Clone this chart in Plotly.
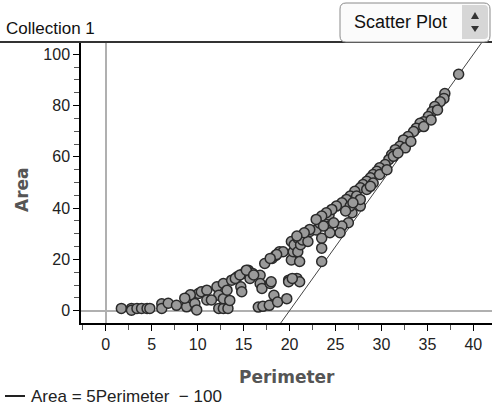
import numpy as np
import plotly.graph_objects as go

# ---- data ----
perimeter = [
    1.7, 2.8, 2.8, 3.4, 3.9, 4.5, 4.8,
    6.1, 6.1, 6.8, 7.7, 8.8, 8.8, 9.4, 9.7, 10.1, 9.9, 10.4, 11.0, 11.0,
    12.1, 12.3, 12.3, 12.8, 13.3, 12.8, 12.8, 13.2, 13.7, 14.3, 14.7, 14.8,
    15.0, 15.5, 15.7, 16.0, 16.8, 16.8, 17.0, 16.6, 17.1, 17.3, 17.8, 17.9,
    18.1, 18.3, 18.5, 18.7, 18.9, 19.7, 19.9, 20.2, 20.2, 20.4, 20.5, 20.8,
    20.9, 20.9, 21.1, 21.2, 21.1, 21.4, 22.0, 22.2, 22.9, 23.3, 23.5, 23.5,
    23.5, 24.0, 24.2, 24.3, 11.5, 13.5, 9.2, 8.6, 14.1, 14.6, 15.3, 16.1,
    38.4, 36.9, 36.8, 36.4, 35.8, 35.5, 35.1, 34.6, 34.2, 33.8, 33.5, 32.9,
    32.4, 32.0, 31.5, 31.1, 30.8, 30.4, 29.8, 29.5, 29.1, 28.8, 28.4, 28.0,
    27.7, 27.1, 26.6, 26.2, 25.7, 25.1, 24.6, 24.0, 23.5, 22.9, 22.2, 21.6,
    20.8, 29.8, 29.1, 28.4, 27.3, 27.7, 26.8, 26.4, 25.7, 25.5, 24.8, 24.4,
    23.7, 26.6, 26.1, 27.7, 30.6, 32.6, 33.2, 34.6, 35.4, 36.1, 31.3, 31.8,
    28.8, 26.9, 19.3, 18.6, 17.9, 18.0, 19.9, 20.3,
]
area = [
    0.9, 0.9, 0.2, 0.9, 0.9, 0.9, 0.9,
    2.7, 0.9, 2.9, 2.1, 4.7, 1.5, 6.0, 2.8, 6.7, 0.3, 7.4, 8.0, 4.2,
    9.3, 6.0, 0.9, 0.9, 0.9, 10.6, 4.7, 8.0, 11.9, 13.2, 9.3, 7.4,
    14.5, 15.8, 12.6, 14.5, 13.8, 10.6, 8.7, 1.4, 1.7, 18.4, 2.1, 10.6,
    20.4, 6.0, 21.6, 3.4, 23.0, 4.7, 11.9, 27.0, 19.8, 23.0, 25.7, 12.6,
    28.3, 23.0, 11.3, 25.7, 19.2, 27.6, 27.0, 30.9, 31.5, 34.1, 28.3, 24.4,
    19.2, 36.0, 32.8, 37.3, 4.2, 4.0, 6.2, 4.9, 12.6, 13.9, 15.8, 13.9,
    92.2, 84.7, 82.8, 81.5, 79.6, 77.6, 75.7, 73.7, 73.1, 71.2, 69.9, 67.9,
    66.6, 64.1, 62.8, 60.8, 58.9, 57.0, 55.7, 54.4, 53.1, 51.8, 50.5, 49.2,
    47.9, 46.6, 44.7, 43.4, 42.1, 40.8, 39.5, 38.2, 36.9, 35.6, 31.7, 30.4,
    29.1, 53.1, 49.8, 47.3, 44.7, 40.8, 38.2, 34.3, 33.0, 30.4, 34.3, 30.4,
    33.0, 40.8, 38.9, 43.4, 55.0, 63.5, 66.0, 71.8, 74.4, 78.3, 60.2, 61.5,
    48.5, 42.1, 23.0, 21.9, 20.4, 11.3, 11.3, 12.6,
]
line_slope = 5
line_intercept = -100
x_ticks = [0, 5, 10, 15, 20, 25, 30, 35, 40]
y_ticks = [0, 20, 40, 60, 80, 100]

FONT = "Liberation Sans"
BOLD = "DejaVu Sans"

# plot area in pixels: left 81, right 492, top 43, bottom 323
def px(x):
    return (x - 81) / 411

def py(y):
    return (323 - y) / 280

fig = go.Figure()

lx = np.linspace(15, 45, 50)
fig.add_trace(go.Scatter(
    x=lx, y=line_slope * lx + line_intercept, mode="lines",
    line=dict(color="#444444", width=1), hoverinfo="skip", showlegend=False))

fig.add_trace(go.Scatter(
    x=perimeter, y=area, mode="markers",
    marker=dict(size=10, color="#9a9a9a", line=dict(color="#2a2a2a", width=1.5)),
    showlegend=False))

fig.update_layout(
    width=492, height=414,
    margin=dict(l=81, r=0, t=43, b=91, autoexpand=False),
    paper_bgcolor="white", plot_bgcolor="white",
    font=dict(family=FONT, size=16, color="#222222"),
    showlegend=False,
)

common = dict(
    showgrid=False, automargin=False,
    zeroline=True, zerolinecolor="#b0b0b0", zerolinewidth=1.5,
    showline=True, linecolor="black", linewidth=1.5,
    ticks="outside", ticklen=6, tickwidth=1, tickcolor="black",
    tickfont=dict(size=16, family=FONT, color="#222222"),
)
fig.update_xaxes(range=[-2.69, 42.03], tickvals=x_ticks,
                 minor=dict(dtick=2.5, tick0=0, ticks="outside", ticklen=5, tickcolor="#555555"),
                 **common)
fig.update_yaxes(range=[-4.8, 104.4], tickvals=y_ticks,
                 minor=dict(dtick=5, tick0=0, ticks="outside", ticklen=5, tickcolor="#555555"),
                 **common)

# axis titles
fig.add_annotation(text="<b>Perimeter</b>", xref="paper", yref="paper",
                   x=px(287), y=py(377), xanchor="center", yanchor="middle", showarrow=False,
                   font=dict(size=17, family=BOLD, color="#555555"))
fig.add_annotation(text="<b>Area</b>", xref="paper", yref="paper", textangle=-90,
                   x=px(22), y=py(190), xanchor="center", yanchor="middle", showarrow=False,
                   font=dict(size=17, family=BOLD, color="#555555"))

# header underline across full width
fig.add_shape(type="line", xref="paper", yref="paper",
              x0=px(0), x1=1.0, y0=py(42), y1=py(42),
              line=dict(color="#333333", width=2))

# "Collection 1" title
fig.add_annotation(text="Collection 1", xref="paper", yref="paper",
                   x=px(4), y=py(29), xanchor="left", yanchor="middle",
                   showarrow=False, font=dict(size=17, family=FONT, color="#111111"))

# dropdown box (pixel-sized relative to top-right of plot)
r = 6
L, R, T, B = -152, -2, 40, 1
path = (f"M {L + r},{T} L {R - r},{T} Q {R},{T} {R},{T - r} L {R},{B + r} "
        f"Q {R},{B} {R - r},{B} L {L + r},{B} Q {L},{B} {L},{B + r} "
        f"L {L},{T - r} Q {L},{T} {L + r},{T} Z")
pix = dict(xref="paper", yref="paper", xsizemode="pixel", ysizemode="pixel", xanchor=1, yanchor=1)
fig.add_shape(type="path", path=path, line=dict(color="#8a8a8a", width=1), fillcolor="#fbfbfb", **pix)
fig.add_shape(type="path", path="M -30,4 L -8,4 Q -4,4 -4,8 L -4,34 Q -4,38 -8,38 L -30,38 Z",
              line=dict(width=0), fillcolor="#d6d6d6", **pix)
fig.add_shape(type="path", path="M -21,24 L -13,24 L -17,31 Z",
              line=dict(width=0), fillcolor="#333333", **pix)
fig.add_shape(type="path", path="M -21,17 L -13,17 L -17,11 Z",
              line=dict(width=0), fillcolor="#333333", **pix)
fig.add_annotation(text="Scatter Plot", xref="paper", yref="paper",
                   x=px(400), y=py(22), xanchor="center", yanchor="middle",
                   showarrow=False, font=dict(size=18, family=FONT, color="#111111"))

# equation legend at bottom
fig.add_shape(type="line", xref="paper", yref="paper",
              x0=px(5), x1=px(25), y0=py(396), y1=py(396),
              line=dict(color="#222222", width=2))
fig.add_annotation(text=f"Area = {line_slope}Perimeter  \u2212 {abs(line_intercept)}",
                   xref="paper", yref="paper",
                   x=px(29), y=py(396), xanchor="left", yanchor="middle",
                   showarrow=False, font=dict(size=17, family=FONT, color="#222222"))

fig.write_html("out.html", config={"displayModeBar": False},
               post_script="document.body.style.margin='0px';")
